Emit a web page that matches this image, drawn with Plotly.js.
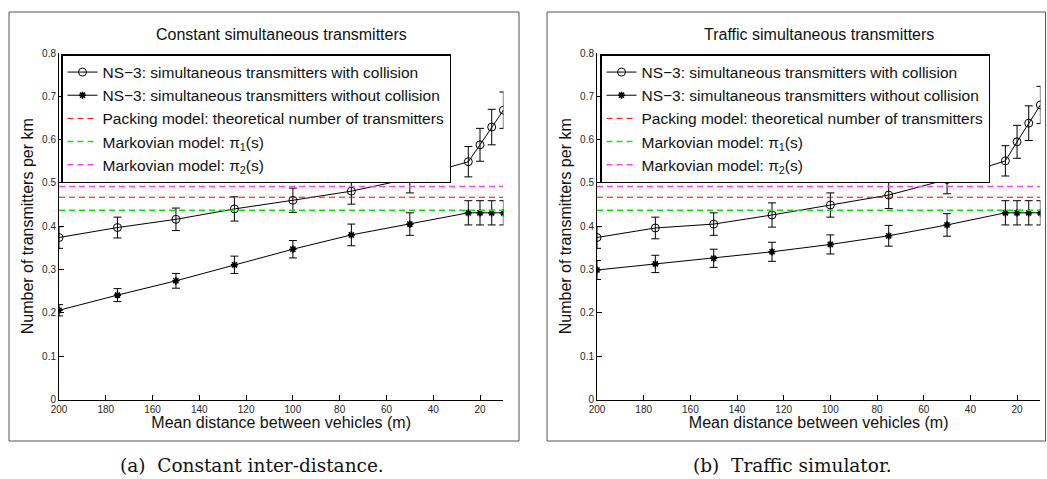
<!DOCTYPE html>
<html>
<head>
<meta charset="utf-8">
<script src="https://cdn.plot.ly/plotly-3.0.1.min.js"></script>
<style>html,body{margin:0;padding:0;background:#fff;}#chart{width:1047px;height:479px;}</style>
</head>
<body>
<div id="chart"></div>
<script>
// ---- data ----
const distances = [200, 175, 150, 125, 100, 75, 50, 25, 20, 15, 10];
const xTicks = [20, 40, 60, 80, 100, 120, 140, 160, 180, 200];

// (a) Constant inter-distance
const withCollisionA    = [0.374, 0.397, 0.416, 0.440, 0.460, 0.481, 0.510, 0.549, 0.588, 0.629, 0.668];
const withCollisionErrA = [0.025, 0.024, 0.026, 0.028, 0.028, 0.030, 0.033, 0.035, 0.038, 0.041, 0.042];
const noCollisionA      = [0.206, 0.241, 0.274, 0.311, 0.347, 0.380, 0.405, 0.431, 0.431, 0.431, 0.431];
const noCollisionErrA   = [0.013, 0.015, 0.017, 0.020, 0.020, 0.025, 0.026, 0.028, 0.028, 0.028, 0.028];

// (b) Traffic simulator
const withCollisionB    = [0.374, 0.396, 0.405, 0.426, 0.449, 0.472, 0.508, 0.551, 0.595, 0.638, 0.680];
const withCollisionErrB = [0.025, 0.025, 0.026, 0.028, 0.028, 0.031, 0.033, 0.035, 0.038, 0.040, 0.043];
const noCollisionB      = [0.299, 0.313, 0.326, 0.341, 0.358, 0.378, 0.403, 0.431, 0.431, 0.431, 0.431];
const noCollisionErrB   = [0.022, 0.020, 0.021, 0.022, 0.022, 0.024, 0.026, 0.028, 0.028, 0.028, 0.028];

// model levels (horizontal reference lines)
const packingLevel = 0.467;
const pi1Level = 0.437;
const pi2Level = 0.492;

const seriesNames = [
  'NS\u22123: simultaneous transmitters with collision',
  'NS\u22123: simultaneous transmitters without collision',
  'Packing model: theoretical number of transmitters',
  'Markovian model: \u03c0<sub>1</sub>(s)',
  'Markovian model: \u03c0<sub>2</sub>(s)'
];
const panelTitles = ['Constant simultaneous transmitters', 'Traffic simultaneous transmitters'];
const captions = ['(a)  Constant inter-distance.', '(b)  Traffic simulator.'];
const xTitle = 'Mean distance between vehicles (m)';
const yTitle = 'Number of transmitters per km';

// ---- build ----
const W = 1047, H = 479;
const FONT = 'Liberation Sans, Arial, Helvetica, sans-serif';
const px = v => v / W;
const py = v => 1 - v / H;

function panel(idx, withC, withE, noC, noE) {
  const xa = idx === 0 ? 'x' : 'x2';
  const ya = idx === 0 ? 'y' : 'y2';
  const lg = idx === 0 ? 'legend' : 'legend2';
  const xEnds = [distances[0], distances[distances.length - 1]];
  return [
    {x: distances, y: withC, xaxis: xa, yaxis: ya, legend: lg, name: seriesNames[0],
     type: 'scatter', mode: 'lines+markers',
     line: {color: '#000', width: 1},
     marker: {symbol: 'circle-open', size: 8, color: '#000', line: {width: 1, color: '#000'}},
     error_y: {type: 'data', array: withE, visible: true, color: '#000', thickness: 1, width: 4}},
    {x: distances, y: noC, xaxis: xa, yaxis: ya, legend: lg, name: seriesNames[1],
     type: 'scatter', mode: 'lines+markers',
     line: {color: '#000', width: 1},
     marker: {symbol: 'asterisk-open', size: 6, color: '#000', line: {width: 1.6, color: '#000'}},
     error_y: {type: 'data', array: noE, visible: true, color: '#000', thickness: 1, width: 4}},
    {x: xEnds, y: [packingLevel, packingLevel], xaxis: xa, yaxis: ya, legend: lg, name: seriesNames[2],
     type: 'scatter', mode: 'lines', line: {color: '#ff0000', width: 1, dash: '6px,4px'}},
    {x: xEnds, y: [pi1Level, pi1Level], xaxis: xa, yaxis: ya, legend: lg, name: seriesNames[3],
     type: 'scatter', mode: 'lines', line: {color: '#00ee00', width: 1.5, dash: '6px,4px'}},
    {x: xEnds, y: [pi2Level, pi2Level], xaxis: xa, yaxis: ya, legend: lg, name: seriesNames[4],
     type: 'scatter', mode: 'lines', line: {color: '#ff44ff', width: 1.5, dash: '6px,4px'}}
  ];
}

const data = [].concat(
  panel(0, withCollisionA, withCollisionErrA, noCollisionA, noCollisionErrA),
  panel(1, withCollisionB, withCollisionErrB, noCollisionB, noCollisionErrB)
);

const tickFont = {family: FONT, size: 10, color: '#262626'};
const titleFont = {family: FONT, size: 16, color: '#111'};

function xAxis(domain, anchor) {
  return {domain: domain, anchor: anchor, range: [200, 10], tickvals: xTicks,
    ticks: 'inside', ticklen: 5, tickcolor: '#000', showline: true, linecolor: '#000', linewidth: 1,
    showgrid: false, zeroline: false, tickfont: tickFont,
    title: {text: xTitle, font: titleFont, standoff: 2}, automargin: false};
}
function yAxis(domain, anchor) {
  return {domain: domain, anchor: anchor, range: [0, 0.8], dtick: 0.1, tick0: 0,
    ticks: 'inside', ticklen: 5, tickcolor: '#000', showline: true, linecolor: '#000', linewidth: 1,
    showgrid: false, zeroline: false, tickfont: tickFont,
    title: {text: yTitle, font: titleFont, standoff: 4}, automargin: false};
}

const yDom = [py(399.5), py(53)];
const legendCommon = {bgcolor: '#fff', bordercolor: '#000', borderwidth: 1.5,
  font: {family: FONT, size: 15.5, color: '#111'}, xanchor: 'left', yanchor: 'top',
  tracegroupgap: 0, itemwidth: 30};

const captionFont = {family: 'DejaVu Serif, Liberation Serif, serif', size: 18.5, color: '#111'};

const layout = {
  width: W, height: H, margin: {l: 0, r: 0, t: 0, b: 0},
  paper_bgcolor: '#fff', plot_bgcolor: 'rgba(0,0,0,0)', showlegend: true,
  xaxis: xAxis([px(59), px(503.4)], 'y'),
  yaxis: yAxis(yDom, 'x'),
  xaxis2: xAxis([px(597), px(1040.4)], 'y2'),
  yaxis2: yAxis(yDom, 'x2'),
  legend: Object.assign({x: px(61), y: py(54)}, legendCommon),
  legend2: Object.assign({x: px(600), y: py(54)}, legendCommon),
  shapes: [
    {type: 'rect', xref: 'paper', yref: 'paper', x0: px(9), x1: px(519), y0: py(441), y1: py(12),
     line: {color: '#555', width: 1}},
    {type: 'rect', xref: 'paper', yref: 'paper', x0: px(547), x1: px(1045.5), y0: py(441), y1: py(12),
     line: {color: '#555', width: 1}}
  ],
  annotations: [
    {text: panelTitles[0], xref: 'paper', yref: 'paper', x: px(281), y: py(35), showarrow: false,
     font: titleFont, xanchor: 'center', yanchor: 'middle'},
    {text: panelTitles[1], xref: 'paper', yref: 'paper', x: px(819), y: py(35), showarrow: false,
     font: titleFont, xanchor: 'center', yanchor: 'middle'},
    {text: captions[0], xref: 'paper', yref: 'paper', x: px(252), y: py(465), showarrow: false,
     font: captionFont, xanchor: 'center', yanchor: 'middle'},
    {text: captions[1], xref: 'paper', yref: 'paper', x: px(792), y: py(465), showarrow: false,
     font: captionFont, xanchor: 'center', yanchor: 'middle'}
  ]
};

Plotly.newPlot('chart', data, layout, {staticPlot: true, displayModeBar: false});
</script>
</body>
</html>
